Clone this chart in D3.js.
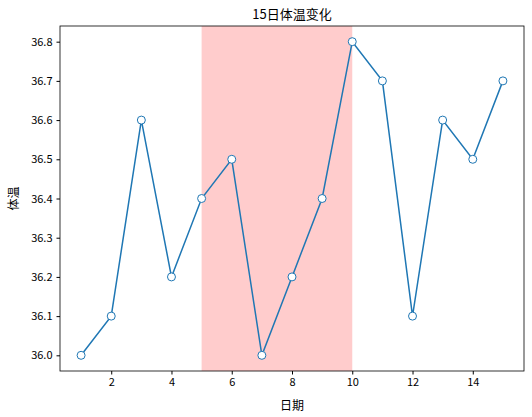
<!DOCTYPE html>
<html><head><meta charset="utf-8">
<script src="https://cdn.jsdelivr.net/npm/d3@7"></script>
<style>body{margin:0;background:#fff}text{font-family:"Noto Sans CJK SC",sans-serif}</style>
</head><body><svg id="c" width="532" height="417"></svg>
<script>
var days = d3.range(1, 16),
	temps = [36.0,36.1,36.6,36.2,36.4,36.5,36.0,36.2,36.4,36.8,36.7,36.1,36.6,36.5,36.7],
	shade = [5, 10],
	xTicks = [2,4,6,8,10,12,14],
	yTicks = [36.0,36.1,36.2,36.3,36.4,36.5,36.6,36.7,36.8];

var svg = d3.select('#c'),
	m = {l: 60, r: 8, t: 26, b: 46},
	W = 532 - m.l - m.r, H = 417 - m.t - m.b,
	x = d3.scaleLinear().domain([0.3, 15.7]).range([0, W]),
	y = d3.scaleLinear().domain([35.96, 36.84]).range([H, 0]),
	g = svg.append('g').attr('transform', `translate(${m.l},${m.t})`);

g.append('rect').attr('x', x(shade[0])).attr('width', x(shade[1]) - x(shade[0]))
	.attr('y', 0).attr('height', H).attr('fill', '#ffcccc');

g.append('path').datum(temps)
	.attr('d', d3.line().x((d, i) => x(days[i])).y(d => y(d)))
	.attr('fill', 'none').attr('stroke', '#1f77b4').attr('stroke-width', 1.5);

g.selectAll('circle').data(temps).enter().append('circle')
	.attr('cx', (d, i) => x(days[i])).attr('cy', d => y(d)).attr('r', 4)
	.attr('fill', '#fff').attr('stroke', '#1f77b4').attr('stroke-width', 1);

var xa = g.append('g').attr('transform', `translate(0,${H})`)
	.call(d3.axisBottom(x).tickValues(xTicks).tickSize(3.5).tickPadding(4));
var ya = g.append('g')
	.call(d3.axisLeft(y).tickValues(yTicks).tickFormat(d3.format('.1f')).tickSize(3.5).tickPadding(4));
[xa, ya].forEach(a => { a.selectAll('text').attr('font-size', 11).attr('fill', '#000'); a.select('.domain').remove(); });

g.append('rect').attr('width', W).attr('height', H).attr('fill', 'none').attr('stroke', '#000').attr('stroke-width', 0.8);

svg.append('text').attr('x', m.l + W / 2).attr('y', 19).attr('text-anchor', 'middle').attr('font-size', 13).text('15日体温变化');
svg.append('text').attr('x', m.l + W / 2).attr('y', 410).attr('text-anchor', 'middle').attr('font-size', 12).text('日期');
svg.append('text').attr('transform', `translate(18,${m.t + H / 2}) rotate(-90)`).attr('text-anchor', 'middle').attr('font-size', 12).text('体温');
</script></body></html>
